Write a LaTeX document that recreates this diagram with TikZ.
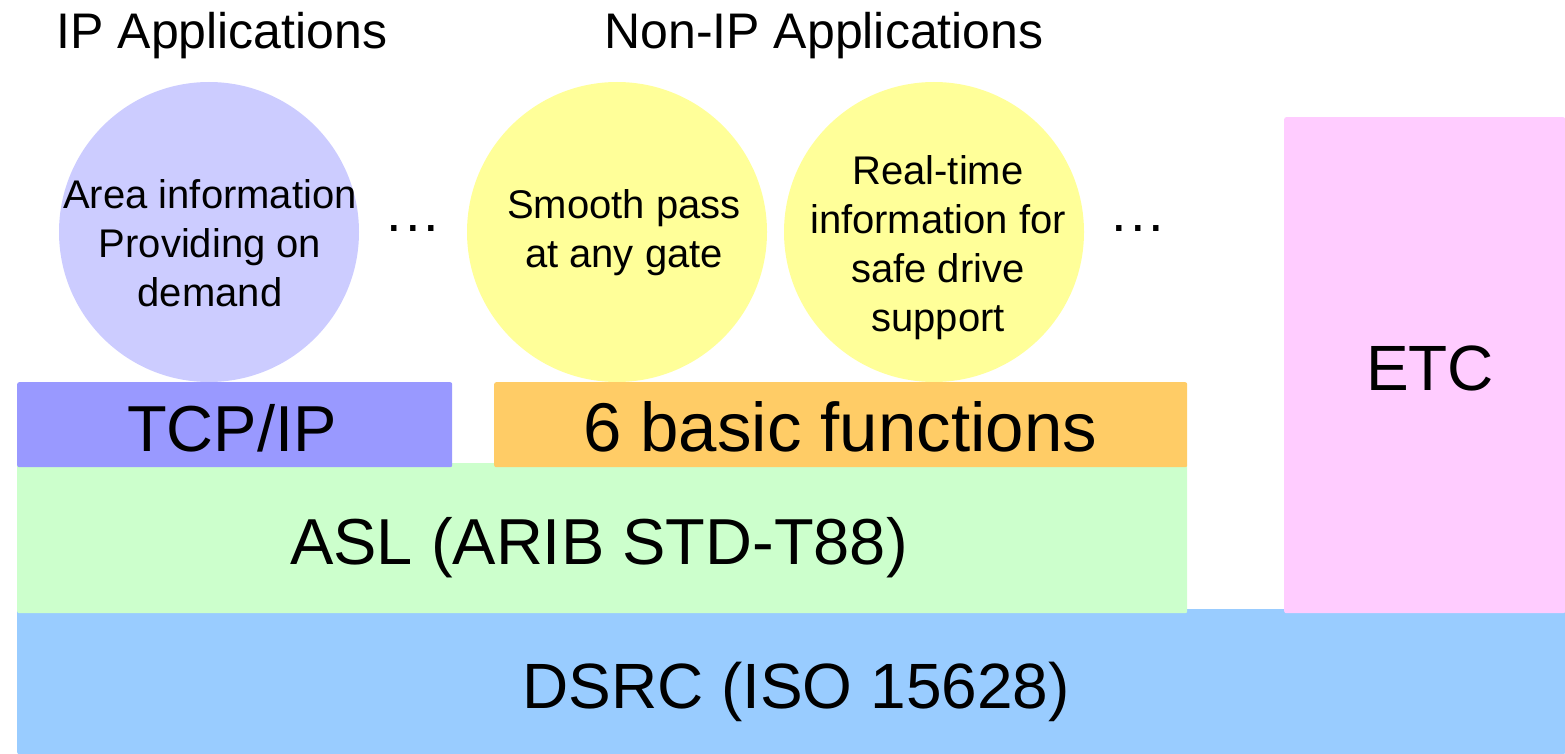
\documentclass[tikz,border=0pt]{standalone}
\usepackage{fontspec}
\setmainfont{Liberation Sans}
\definecolor{lavender}{HTML}{CCCCFF}
\definecolor{tcpblue}{HTML}{9999FF}
\definecolor{paleyellow}{HTML}{FFFF99}
\definecolor{orangebox}{HTML}{FFCC66}
\definecolor{palegreen}{HTML}{CCFFCC}
\definecolor{skyblue}{HTML}{99CCFF}
\definecolor{pinkbox}{HTML}{FFCCFF}
\tikzset{
  layer/.style={rectangle, draw=none, inner sep=0pt, anchor=north west, rounded corners=2pt},
  layertext/.style={font=\fontsize{65}{65}\selectfont, anchor=base},
  app/.style={circle, draw=none, inner sep=0pt, minimum size=300pt},
  apptext/.style={align=center, font=\fontsize{40}{49}\selectfont},
  heading/.style={font=\fontsize{50}{50}\selectfont, anchor=base},
  dots/.style={font=\fontsize{56}{56}\selectfont, anchor=base}
}
\begin{document}
\begin{tikzpicture}[x=1pt, y=-1pt]
  \useasboundingbox (0,0) rectangle (1565,754);

  % protocol layers, bottom to top
  \node[layer, fill=skyblue, minimum width=1548pt, minimum height=145pt] (dsrc) at (17,609) {};
  \node[layer, fill=palegreen, minimum width=1170pt, minimum height=150pt] (asl) at (17,463) {};
  \node[layer, fill=tcpblue, minimum width=435pt, minimum height=85pt] (tcp) at (17,382) {};
  \node[layer, fill=orangebox, minimum width=693pt, minimum height=85pt] (basic) at (494,382) {};
  \node[layer, fill=pinkbox, minimum width=281pt, minimum height=496pt] (etc) at (1284,117) {};

  % layer labels
  \node[layertext, font=\fontsize{64}{64}\selectfont] (dsrcL) at (796,708) {DSRC (ISO 15628)};
  \node[layertext] (aslL) at (599,564) {ASL (ARIB STD-T88)};
  \node[layertext] (tcpL) at (232,451) {TCP/IP};
  \node[layertext, font=\fontsize{69}{69}\selectfont] (basicL) at (840,451) {6 basic functions};
  \node[layertext, font=\fontsize{64}{64}\selectfont] (etcL) at (1430,390) {ETC};

  % applications
  \node[app, fill=lavender] (area) at (209,232) {};
  \node[app, fill=paleyellow] (smooth) at (617,232) {};
  \node[app, fill=paleyellow] (safe) at (934,232) {};
  \node[apptext] (areaT) at (210,243) {Area information\\Providing on\\demand};
  \node[apptext] (smoothT) at (624,233) {Smooth pass\\at any gate};
  \node[apptext] (safeT) at (938,248) {Real-time\\information for\\safe drive\\support};

  \node[dots] (dots1) at (413,231) {.\hspace{3pt}.\hspace{3pt}.};
  \node[dots] (dots2) at (1138,231) {.\hspace{3pt}.\hspace{3pt}.};

  % group headings
  \node[heading] (ipH) at (222,49) {IP Applications};
  \node[heading] (nonipH) at (824,49) {Non-IP Applications};
\end{tikzpicture}
\end{document}
